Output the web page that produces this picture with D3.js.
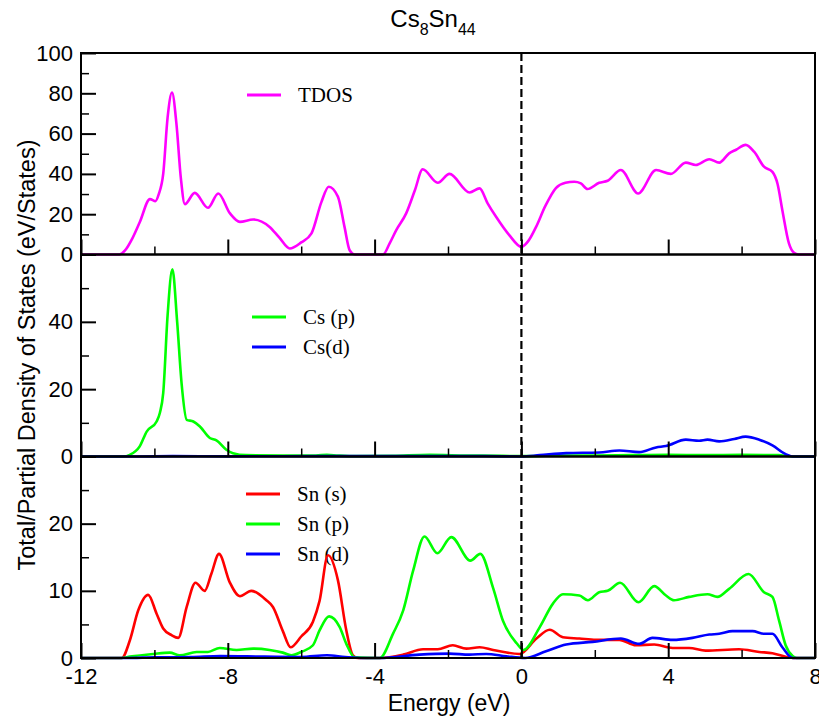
<!DOCTYPE html>
<html>
<head>
<meta charset="utf-8">
<script src="https://cdn.jsdelivr.net/npm/d3@7"></script>
<style>
  html, body { margin: 0; padding: 0; background: #fff; }
  svg { display: block; }
  .tick text { font-family: "Liberation Sans", Arial, sans-serif; font-size: 22px; fill: #000; }
  .legend text { font-family: "Liberation Serif", "Times New Roman", serif; font-size: 21px; fill: #000; }
</style>
</head>
<body>
<svg id="chart" width="819" height="719"></svg>
<script>
// ---- Energy axis ----
const energyDomain = [-12, 8];
const energyMajorTicks = [-12, -8, -4, 0, 4, 8];
const energyMinorTicks = [-10, -6, -2, 2, 6];

// ---- Total DOS ----
const tdosE = [-12, -10.95, -10.8, -10.6, -10.4, -10.12, -9.97, -9.88, -9.76, -9.64, -9.52, -9.40, -9.28, -9.17, -8.9, -8.54, -8.26, -7.94, -7.67, -7.31, -6.86, -6.6, -6.31, -6.0, -5.72, -5.45, -5.25, -5.0, -4.82, -4.68, -4.54, -3.77, -3.59, -3.41, -3.14, -2.9, -2.69, -2.28, -1.96, -1.41, -1.14, -0.92, -0.69, -0.33, 0.0, 0.2, 0.4, 0.65, 0.94, 1.2, 1.44, 1.62, 1.8, 2.12, 2.35, 2.71, 3.18, 3.67, 4.07, 4.48, 4.75, 5.12, 5.39, 5.66, 5.85, 6.11, 6.34, 6.61, 6.84, 6.98, 7.11, 7.29, 7.43, 7.55, 8];
const tdosV = [0, 0, 2, 8, 16, 27.5, 26.5, 30, 40, 68, 80.4, 65, 38, 25, 30.6, 23.2, 30.3, 20.4, 16.2, 17.4, 13.7, 8.5, 3.0, 6, 10.5, 26, 33.6, 28.7, 13.7, 2.1, 0, 0, 5.5, 12.1, 20.4, 32, 42.3, 35.6, 40, 30.8, 32.8, 25.4, 18.7, 9.6, 3.8, 7, 13.7, 24, 33, 35.6, 36.1, 35.3, 32.5, 35.6, 36.6, 41.9, 30.3, 41.9, 40, 45.6, 44.4, 47.3, 45.6, 50.2, 52, 54.4, 51, 43.6, 41, 35, 22, 5.5, 0.8, 0, 0];

// ---- Cs partial DOS ----
const csPE = [-12, -10.85, -10.67, -10.4, -10.21, -9.94, -9.85, -9.76, -9.64, -9.51, -9.38, -9.26, -9.12, -8.94, -8.76, -8.49, -8.31, -8.04, -7.86, -7.5, -6.5, -5.6, -5.3, -5.0, -4.5, -3.5, -2.5, -1.5, -0.5, 0, 1, 2, 3, 4, 5, 6, 7, 7.3, 7.5, 8];
const csPV = [0, 0, 0.5, 3, 7.4, 10.4, 13, 18.8, 42, 55.6, 40, 21.8, 10.9, 10.4, 8.9, 5.5, 4.8, 2, 1, 0.4, 0.3, 0.3, 0.5, 0.3, 0.1, 0.2, 0.5, 0.3, 0.2, 0.1, 0.3, 0.3, 0.4, 0.5, 0.4, 0.5, 0.4, 0.1, 0, 0];
const csDE = [-12, -10.5, -9.5, -8, -5.3, -3, -1, 0, 0.5, 1.22, 2.12, 2.67, 3.21, 3.67, 3.94, 4.48, 4.84, 5.07, 5.39, 5.8, 6.11, 6.48, 6.84, 7.2, 7.39, 8];
const csDV = [0, 0, 0.1, 0.05, 0.1, 0.1, 0.1, 0, 0.4, 1.0, 1.2, 1.8, 1.3, 2.7, 3.1, 5.0, 4.7, 5.0, 4.5, 5.2, 5.9, 5.0, 3.3, 0.7, 0, 0];

// ---- Sn partial DOS ----
const snSE = [-12, -10.89, -10.67, -10.44, -10.17, -9.94, -9.76, -9.53, -9.35, -9.12, -8.88, -8.63, -8.45, -8.24, -7.95, -7.67, -7.36, -6.95, -6.77, -6.5, -6.29, -6.0, -5.68, -5.5, -5.27, -5.0, -4.77, -4.59, -4.45, -3.86, -3.22, -2.68, -2.28, -1.87, -1.5, -1.14, -0.77, -0.05, 0.41, 0.77, 1.13, 1.58, 2.03, 2.67, 3.12, 3.62, 4.12, 4.57, 5.02, 5.93, 6.48, 6.84, 7.2, 7.42, 8];
const snSV = [0, 0, 2.6, 7.1, 9.4, 6.6, 4.4, 3.4, 3.0, 7.6, 11.2, 10, 12.5, 15.5, 11.3, 9.2, 10.0, 8.6, 7.6, 4, 1.6, 3.2, 5.4, 8.5, 15.3, 11.6, 4.1, 0.4, 0, 0, 0.5, 1.3, 1.3, 1.9, 1.4, 1.6, 1.2, 0.6, 2.9, 4.2, 3.1, 2.9, 2.7, 2.7, 1.9, 2.0, 1.5, 1.5, 1.1, 1.3, 0.9, 0.7, 0.2, 0, 0];
const snPE = [-12, -10.9, -10.67, -10.03, -9.58, -9.31, -8.85, -8.54, -8.22, -7.76, -7.31, -6.86, -6.5, -6.27, -6.0, -5.68, -5.5, -5.24, -4.95, -4.77, -4.54, -3.86, -3.5, -3.22, -2.95, -2.64, -2.29, -1.91, -1.39, -1.12, -0.77, -0.5, -0.13, 0.06, 0.5, 0.86, 1.13, 1.58, 1.81, 2.12, 2.35, 2.69, 3.19, 3.62, 3.94, 4.16, 4.57, 5.07, 5.34, 5.66, 6.19, 6.61, 6.84, 7.02, 7.2, 7.39, 7.5, 8];
const snPV = [0, 0, 0.2, 0.6, 0.8, 0.4, 0.9, 0.9, 1.5, 1.2, 1.4, 1.2, 0.8, 0.4, 0.9, 1.9, 4.1, 6.2, 4.6, 2.1, 0.1, 0, 3.6, 7.1, 13.0, 18.1, 15.6, 18.0, 14.5, 15.5, 10.4, 5.5, 2.2, 1.2, 4.6, 8.1, 9.5, 9.3, 8.6, 9.8, 10.0, 11.2, 8.3, 10.7, 9.3, 8.6, 9.1, 9.5, 9.1, 10.3, 12.5, 9.8, 9.1, 5.6, 1.9, 0.3, 0, 0];
const snDE = [-12, -10.8, -10, -9, -8.2, -7, -6, -5.3, -4.8, -4.3, -3.86, -2.78, -1.96, -1.42, -0.96, -0.41, 0.1, 0.67, 1.22, 1.94, 2.71, 3.21, 3.57, 4.12, 4.66, 5.12, 5.39, 5.75, 6.3, 6.61, 6.84, 7.11, 7.39, 8];
const snDV = [0, 0, 0.1, 0.15, 0.3, 0.2, 0.15, 0.4, 0.15, 0, 0, 0.5, 0.65, 0.5, 0.6, 0.25, 0, 1.0, 2.0, 2.4, 2.9, 2.1, 3.0, 2.7, 3.0, 3.5, 3.6, 4.0, 4.0, 3.6, 3.6, 1.6, 0, 0];

// ---- Panel y-axis ticks ----
const tdosTicks = [0, 20, 40, 60, 80, 100];
const tdosMinor = [10, 30, 50, 70, 90];
const csTicks = [0, 20, 40];
const csMinor = [10, 30, 50];
const snTicks = [0, 10, 20];
const snMinor = [5, 15, 25];

const zip = (E, V) => E.map((e, i) => ({ e, v: V[i] }));
// plain hyphen for negative numbers
const fmtTick = d => (d < 0 ? "-" + Math.abs(d) : String(d));

const svg = d3.select("#chart");
const left = 81, right = 815;
const x = d3.scaleLinear().domain(energyDomain).range([left, right]);

const panels = [
  { top: 53, bottom: 254.5, max: 100, ticks: tdosTicks, minor: tdosMinor,
    series: [{ name: "TDOS", data: zip(tdosE, tdosV), color: "#ff00ff" }],
    legend: { x: 247, y: 95, gap: 30 } },
  { top: 254.5, bottom: 456.5, max: 60, ticks: csTicks, minor: csMinor,
    series: [{ name: "Cs (p)", data: zip(csPE, csPV), color: "#00ff00" },
             { name: "Cs(d)", data: zip(csDE, csDV), color: "#0000ff" }],
    legend: { x: 252, y: 317, gap: 30 } },
  { top: 456.5, bottom: 658, max: 30, ticks: snTicks, minor: snMinor,
    series: [{ name: "Sn (s)", data: zip(snSE, snSV), color: "#ff0000" },
             { name: "Sn (p)", data: zip(snPE, snPV), color: "#00ff00" },
             { name: "Sn (d)", data: zip(snDE, snDV), color: "#0000ff" }],
    legend: { x: 246, y: 494, gap: 30 } }
];

panels.forEach((p, idx) => {
  const y = d3.scaleLinear().domain([0, p.max]).range([p.bottom, p.top]);
  const g = svg.append("g");

  // legend (drawn first so curves pass over it)
  const lg = g.append("g").attr("class", "legend");
  p.series.forEach((s, i) => {
    const ly = p.legend.y + i * p.legend.gap;
    lg.append("line").attr("x1", p.legend.x).attr("x2", p.legend.x + 34)
      .attr("y1", ly).attr("y2", ly).attr("stroke", s.color).attr("stroke-width", 3);
    lg.append("text").attr("x", p.legend.x + 51).attr("y", ly + 7).text(s.name);
  });

  // curves
  const line = d3.line().x(d => x(d.e)).y(d => y(d.v)).curve(d3.curveMonotoneX);
  p.series.forEach(s => {
    g.append("path").datum(s.data).attr("d", line)
      .attr("fill", "none").attr("stroke", s.color)
      .attr("stroke-width", 2.6).attr("stroke-linejoin", "round");
  });

  // y axis: major ticks with labels, minor ticks
  const ya = g.append("g").attr("transform", `translate(${left},0)`)
    .call(d3.axisLeft(y).tickValues(p.ticks).tickSize(-15).tickPadding(8).tickFormat(fmtTick));
  ya.select(".domain").remove();
  ya.selectAll(".tick line").attr("stroke-width", 2);
  const ym = g.append("g").attr("transform", `translate(${left},0)`)
    .call(d3.axisLeft(y).tickValues(p.minor).tickSize(-8).tickFormat(""));
  ym.select(".domain").remove();
  ym.selectAll(".tick line").attr("stroke-width", 1.5);

  // x axis ticks on each panel floor; labels only under the last panel
  const isLast = idx === panels.length - 1;
  const xa = g.append("g").attr("transform", `translate(0,${p.bottom})`)
    .call(d3.axisBottom(x).tickValues(energyMajorTicks).tickSize(-15).tickPadding(10)
      .tickFormat(isLast ? fmtTick : ""));
  xa.select(".domain").remove();
  xa.selectAll(".tick line").attr("stroke-width", 2);
  const xm = g.append("g").attr("transform", `translate(0,${p.bottom})`)
    .call(d3.axisBottom(x).tickValues(energyMinorTicks).tickSize(-8).tickFormat(""));
  xm.select(".domain").remove();
  xm.selectAll(".tick line").attr("stroke-width", 1.5);

  // frame
  g.append("rect").attr("x", left).attr("y", p.top)
    .attr("width", right - left).attr("height", p.bottom - p.top)
    .attr("fill", "none").attr("stroke", "#000").attr("stroke-width", 2);
});

// Fermi level
svg.append("line")
  .attr("x1", x(0)).attr("x2", x(0))
  .attr("y1", panels[0].top).attr("y2", panels[2].bottom)
  .attr("stroke", "#000").attr("stroke-width", 2.2).attr("stroke-dasharray", "8,4");

// Title with subscripts
const title = svg.append("text").attr("x", 433).attr("y", 27)
  .attr("text-anchor", "middle")
  .style("font-family", "'Liberation Sans', Arial, sans-serif").style("font-size", "24px");
title.append("tspan").text("Cs");
title.append("tspan").text("8").attr("dy", 8).style("font-size", "16px");
title.append("tspan").text("Sn").attr("dy", -8);
title.append("tspan").text("44").attr("dy", 8).style("font-size", "16px");

// Axis titles
svg.append("text").attr("x", 449).attr("y", 711).attr("text-anchor", "middle")
  .style("font-family", "'Liberation Sans', Arial, sans-serif").style("font-size", "23px")
  .text("Energy (eV)");
svg.append("text").attr("transform", "translate(35,355) rotate(-90)").attr("text-anchor", "middle")
  .style("font-family", "'Liberation Sans', Arial, sans-serif").style("font-size", "23.5px")
  .text("Total/Partial Density of States (eV/States)");
</script>
</body>
</html>
